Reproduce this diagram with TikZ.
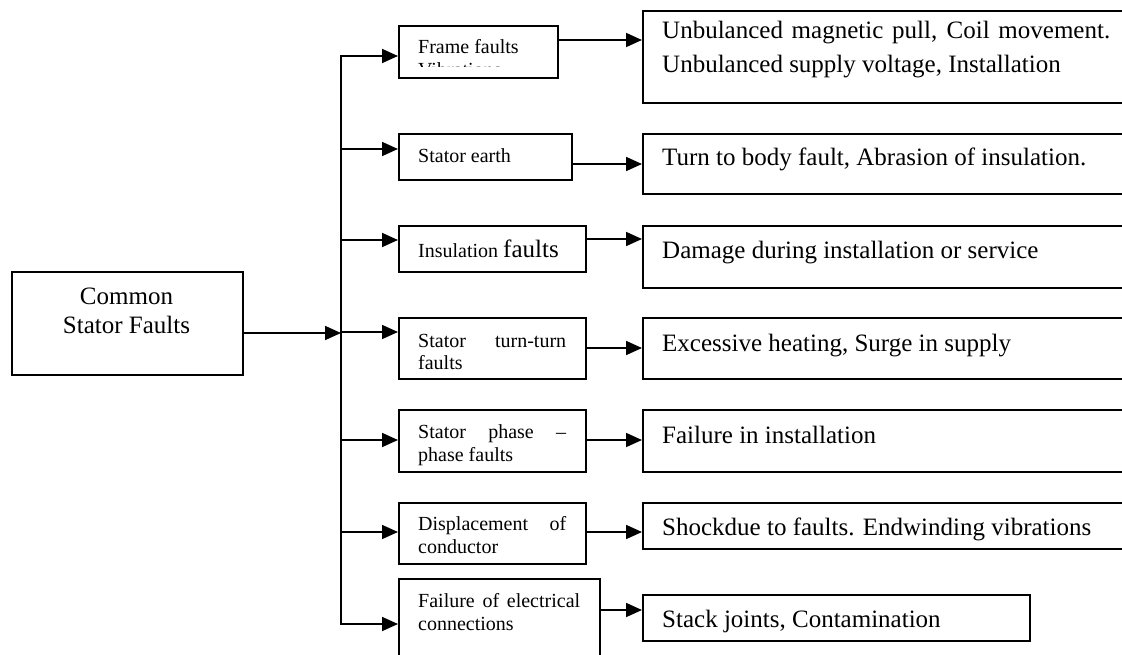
\documentclass[tikz,border=0pt]{standalone}
\usepackage{fontspec}
\setmainfont{Liberation Serif}
\usetikzlibrary{arrows.meta}
\begin{document}
\begin{tikzpicture}[x=1pt,y=-1pt,
  box/.style={draw,line width=1.7pt,rectangle,inner sep=0pt,anchor=north west},
  arr/.style={line width=1.7pt,-{Triangle[length=16pt,width=14pt]}},
  small/.style={inner sep=0pt,anchor=base west,font=\fontsize{20}{23}\selectfont},
  big/.style={inner sep=0pt,anchor=base west,font=\fontsize{25}{30}\selectfont},
  bigc/.style={inner sep=0pt,anchor=base,font=\fontsize{25}{30}\selectfont}]
\useasboundingbox (0,0) rectangle (1122,654);
\clip (0,0) rectangle (1122,654);

% main box
\node[box,minimum width=231pt,minimum height=103pt] (main) at (11,271) {};
\node[bigc] (mt1) at (126.5,304) {Common};
\node[bigc] (mt2) at (126.5,333) {Stator Faults};

% left boxes
\node[box,minimum width=159pt,minimum height=52pt] (l1) at (398,25) {};
\node[box,minimum width=173pt,minimum height=46pt] (l2) at (398,133) {};
\node[box,minimum width=187pt,minimum height=46pt] (l3) at (398,225) {};
\node[box,minimum width=187pt,minimum height=61pt] (l4) at (398,317) {};
\node[box,minimum width=187pt,minimum height=62pt] (l5) at (398,409) {};
\node[box,minimum width=187pt,minimum height=61pt] (l6) at (398,502) {};
\node[box,minimum width=201pt,minimum height=110pt] (l7) at (398,578) {};

% right boxes
\node[box,minimum width=520pt,minimum height=92pt] (r1) at (642,10) {};
\node[box,minimum width=520pt,minimum height=60pt] (r2) at (642,133) {};
\node[box,minimum width=520pt,minimum height=62pt] (r3) at (642,225) {};
\node[box,minimum width=520pt,minimum height=61pt] (r4) at (642,317) {};
\node[box,minimum width=520pt,minimum height=62pt] (r5) at (642,409) {};
\node[box,minimum width=520pt,minimum height=46pt] (r6) at (642,502) {};
\node[box,minimum width=387pt,minimum height=46pt] (r7) at (642,594) {};

% left texts
\node[small] (t1) at (418,53) {Frame faults};
\begin{scope}
\clip (399,25) rectangle (556,66);
\node[small] (t1b) at (418,76) {Vibrations};
\end{scope}
\node[small] (t2) at (418,162) {Stator earth};
\node[small] (t3) at (418,257) {Insulation \fontsize{25}{30}\selectfont faults};
\node[small] (t4a) at (418,347) {\makebox[148pt][s]{Stator turn-turn}};
\node[small] (t4b) at (418,369) {faults};
\node[small] (t5a) at (418,438) {\makebox[148pt][s]{Stator phase –}};
\node[small] (t5b) at (418,461) {phase faults};
\node[small] (t6a) at (418,530) {\makebox[148pt][s]{Displacement of}};
\node[small] (t6b) at (418,553) {conductor};
\node[small] (t7a) at (418,607) {\makebox[162pt][s]{Failure of electrical}};
\node[small] (t7b) at (418,630) {connections};

% right texts
\node[big] (u1a) at (662,38) {\makebox[448pt][s]{Unbulanced magnetic pull, Coil movement.}};
\node[big] (u1b) at (662,72) {Unbulanced supply voltage, Installation};
\node[big] (u2) at (662,165) {Turn to body fault, Abrasion of insulation.};
\node[big] (u3) at (662,258) {Damage during installation or service};
\node[big] (u4) at (662,351) {Excessive heating, Surge in supply};
\node[big] (u5) at (662,443) {Failure in installation};
\node[big] (u6) at (662,535) {Shockdue to faults. Endwinding vibrations};
\node[big] (u7) at (662,627) {Stack joints, Contamination};

% bus coordinates
\coordinate (bt) at (341,56);
\coordinate (bb) at (341,624);
\coordinate (m) at (0,333);
\coordinate (i2) at (0,149);
\coordinate (i3) at (0,240);
\coordinate (i4) at (0,332);
\coordinate (i5) at (0,440);
\coordinate (i6) at (0,532);
\coordinate (o1) at (0,40);
\coordinate (o2) at (0,164);
\coordinate (o3) at (0,239);
\coordinate (o4) at (0,348);
\coordinate (o5) at (0,440);
\coordinate (o6) at (0,532);
\coordinate (o7) at (0,610);

% connectors
\draw[arr] (main.east |- m) -- (bt |- m);
\draw[arr] (bb) -- (bt) -- (l1.west |- bt);
\draw[arr] (bt) -- (bb) -- (l7.west |- bb);
\draw[arr] (bt |- i2) -- (l2.west |- i2);
\draw[arr] (bt |- i3) -- (l3.west |- i3);
\draw[arr] (bt |- i4) -- (l4.west |- i4);
\draw[arr] (bt |- i5) -- (l5.west |- i5);
\draw[arr] (bt |- i6) -- (l6.west |- i6);

\draw[arr] (l1.east |- o1) -- (r1.west |- o1);
\draw[arr] (l2.east |- o2) -- (r2.west |- o2);
\draw[arr] (l3.east |- o3) -- (r3.west |- o3);
\draw[arr] (l4.east |- o4) -- (r4.west |- o4);
\draw[arr] (l5.east |- o5) -- (r5.west |- o5);
\draw[arr] (l6.east |- o6) -- (r6.west |- o6);
\draw[arr] (l7.east |- o7) -- (r7.west |- o7);
\end{tikzpicture}
\end{document}
